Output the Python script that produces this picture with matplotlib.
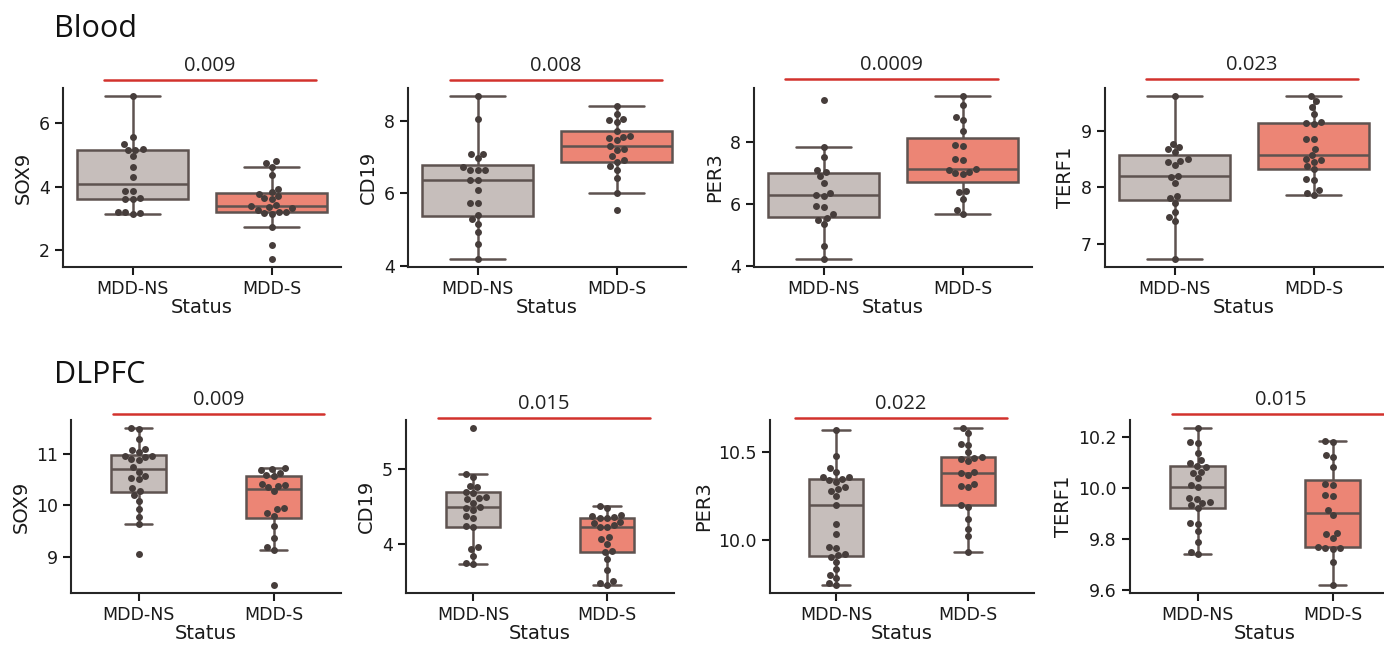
import matplotlib
matplotlib.use('Agg')
import matplotlib.pyplot as plt
from matplotlib.lines import Line2D
from matplotlib.ticker import MultipleLocator
import pandas as pd
import seaborn as sns

# ---- data ----
groups = ['MDD-NS', 'MDD-S']
genes = ['SOX9', 'CD19', 'PER3', 'TERF1']
tissues = ['Blood', 'DLPFC']

blood_sox9_ns = [6.85, 5.57, 5.33, 5.2, 5.17, 5.15, 4.97, 4.63, 4.3, 3.88, 3.86, 3.65, 3.62, 3.6, 3.22, 3.2, 3.18, 3.15]
blood_sox9_s = [4.8, 4.76, 4.62, 4.36, 3.92, 3.82, 3.78, 3.7, 3.65, 3.6, 3.42, 3.38, 3.36, 3.32, 3.28, 3.22, 3.2, 3.18, 3.15, 2.74, 2.18, 1.73]
blood_cd19_ns = [8.69, 8.06, 7.1, 7.08, 6.98, 6.72, 6.66, 6.66, 6.66, 6.36, 6.36, 6.09, 5.74, 5.74, 5.4, 5.28, 5.15, 4.94, 4.6, 4.19]
blood_cd19_s = [8.43, 8.19, 8.06, 8.03, 7.98, 7.72, 7.6, 7.57, 7.52, 7.48, 7.3, 7.22, 7.2, 7.03, 6.92, 6.88, 6.75, 6.66, 6.43, 6.0, 5.54]
blood_per3_ns = [9.38, 7.85, 7.53, 7.1, 7.05, 6.9, 6.7, 6.35, 6.3, 6.28, 5.93, 5.92, 5.68, 5.55, 5.5, 5.35, 4.65, 4.23]
blood_per3_s = [9.5, 9.2, 8.82, 8.72, 8.38, 7.93, 7.88, 7.47, 7.43, 7.15, 7.12, 7.05, 7.0, 6.98, 6.43, 6.38, 6.18, 5.82, 5.68]
blood_terf1_ns = [9.61, 8.76, 8.72, 8.67, 8.63, 8.5, 8.47, 8.45, 8.4, 8.21, 8.18, 8.07, 7.85, 7.82, 7.73, 7.57, 7.47, 7.4, 6.74]
blood_terf1_s = [9.61, 9.52, 9.42, 9.3, 9.15, 9.13, 9.12, 8.86, 8.85, 8.68, 8.57, 8.5, 8.48, 8.45, 8.38, 8.32, 8.15, 8.13, 7.95, 7.91, 7.87]

dlpfc_sox9_ns = [11.5, 11.47, 11.28, 11.09, 11.07, 11.03, 10.96, 10.95, 10.93, 10.9, 10.88, 10.74, 10.65, 10.57, 10.53, 10.5, 10.33, 10.28, 10.2, 10.09, 9.92, 9.78, 9.63, 9.06]
dlpfc_sox9_s = [10.72, 10.7, 10.69, 10.62, 10.59, 10.57, 10.42, 10.4, 10.38, 10.36, 10.27, 9.94, 9.92, 9.84, 9.8, 9.6, 9.36, 9.18, 9.13, 8.45]
dlpfc_cd19_ns = [5.55, 4.93, 4.89, 4.78, 4.76, 4.7, 4.68, 4.63, 4.61, 4.6, 4.55, 4.49, 4.48, 4.45, 4.37, 4.35, 4.24, 4.22, 3.96, 3.93, 3.84, 3.75, 3.73]
dlpfc_cd19_s = [4.51, 4.48, 4.39, 4.37, 4.36, 4.35, 4.34, 4.29, 4.28, 4.25, 4.23, 4.22, 4.09, 4.06, 4.0, 3.91, 3.89, 3.8, 3.65, 3.51, 3.48, 3.45]
dlpfc_per3_ns = [10.63, 10.48, 10.41, 10.39, 10.36, 10.36, 10.35, 10.34, 10.33, 10.3, 10.29, 10.28, 10.25, 10.2, 10.09, 10.03, 9.96, 9.95, 9.92, 9.91, 9.9, 9.87, 9.83, 9.8, 9.78, 9.75, 9.74]
dlpfc_per3_s = [10.64, 10.61, 10.55, 10.54, 10.5, 10.475, 10.47, 10.46, 10.45, 10.39, 10.38, 10.37, 10.32, 10.31, 10.3, 10.2, 10.19, 10.12, 10.06, 10.02, 9.93]
dlpfc_terf1_ns = [10.235, 10.18, 10.175, 10.137, 10.11, 10.097, 10.087, 10.083, 10.064, 10.06, 10.04, 10.013, 10.005, 9.96, 9.957, 9.946, 9.94, 9.933, 9.92, 9.863, 9.86, 9.832, 9.79, 9.75, 9.74]
dlpfc_terf1_s = [10.185, 10.18, 10.128, 10.12, 10.083, 10.016, 10.01, 9.973, 9.97, 9.913, 9.893, 9.825, 9.82, 9.805, 9.77, 9.765, 9.765, 9.76, 9.71, 9.62]

p_values = [['0.009', '0.008', '0.0009', '0.023'],
            ['0.009', '0.015', '0.022', '0.015']]

panels = [
    [(blood_sox9_ns, blood_sox9_s), (blood_cd19_ns, blood_cd19_s),
     (blood_per3_ns, blood_per3_s), (blood_terf1_ns, blood_terf1_s)],
    [(dlpfc_sox9_ns, dlpfc_sox9_s), (dlpfc_cd19_ns, dlpfc_cd19_s),
     (dlpfc_per3_ns, dlpfc_per3_s), (dlpfc_terf1_ns, dlpfc_terf1_s)],
]

# ---- layout (pixels of the 1384x646 canvas) ----
W, H = 1384, 646
row_top = [88, 420]
row_bottom = [267, 593]
axes_left = [[63, 408, 754, 1105], [71, 406, 770, 1130]]
axes_width = [[278, 278, 278, 278], [270, 268, 264, 270]]
box_width = [0.8, 0.41]
tick_step = [[2, 2, 2, 1], [1, 1, 0.5, 0.2]]
# red bracket lines above each panel: (x0, x1, y)
brackets = [[(104, 316, 80), (450, 662, 80), (785, 998, 79), (1146, 1358, 79)],
            [(113, 324, 414), (438, 650, 418), (795, 1007, 418), (1172, 1390, 414)]]
title_y = [37, 383]

box_colors = ['#c6bebb', '#ec8575']
edge_color = '#5e5350'
dot_color = '#463d3b'

sns.set_style('ticks')
plt.rcParams['font.family'] = ['DejaVu Sans']
plt.rcParams['axes.linewidth'] = 1.5
plt.rcParams['xtick.major.width'] = 1.5
plt.rcParams['ytick.major.width'] = 1.5
plt.rcParams['xtick.major.size'] = 6
plt.rcParams['ytick.major.size'] = 6

fig = plt.figure(figsize=(W / 100, H / 100), dpi=100)

for r in range(2):
    for c in range(4):
        ns, s = panels[r][c]
        gene = genes[c]
        df = pd.DataFrame({'Status': ['MDD-NS'] * len(ns) + ['MDD-S'] * len(s),
                           gene: ns + s})
        left = axes_left[r][c]
        width = axes_width[r][c]
        ax = fig.add_axes([left / W, 1 - row_bottom[r] / H, width / W,
                           (row_bottom[r] - row_top[r]) / H])
        sns.boxplot(data=df, x='Status', y=gene, hue='Status', order=groups,
                    palette=box_colors, saturation=1, showfliers=False,
                    linecolor=edge_color, linewidth=1.8, width=box_width[r],
                    legend=False, ax=ax)
        sns.swarmplot(data=df, x='Status', y=gene, order=groups,
                      color=dot_color, size=5, ax=ax)
        ax.set_xlim(-0.5, 1.5)
        ax.yaxis.set_major_locator(MultipleLocator(tick_step[r][c]))
        ax.tick_params(labelsize=12.5, colors='#1a1a1a', labelcolor='#1a1a1a')
        ax.set_xlabel('Status', fontsize=14, labelpad=0, color='#1a1a1a')
        ax.set_ylabel(gene, fontsize=14, color='#1a1a1a')
        sns.despine(ax=ax)

        # significance bracket and p-value
        x0, x1, y = brackets[r][c]
        fig.add_artist(Line2D([x0 / W, x1 / W], [1 - y / H, 1 - y / H],
                              color='#d2322d', lw=1.8,
                              transform=fig.transFigure))
        fig.text((x0 + x1) / 2 / W, 1 - (y - 4) / H, p_values[r][c],
                 ha='center', va='bottom', fontsize=14.5,
                 family='Open Sans', color='#222222')

    # row title
    fig.text(54 / W, 1 - title_y[r] / H, tissues[r], ha='left',
             va='baseline', fontsize=22, family='Open Sans', color='#111111')

fig.savefig('out.png', dpi=100)
